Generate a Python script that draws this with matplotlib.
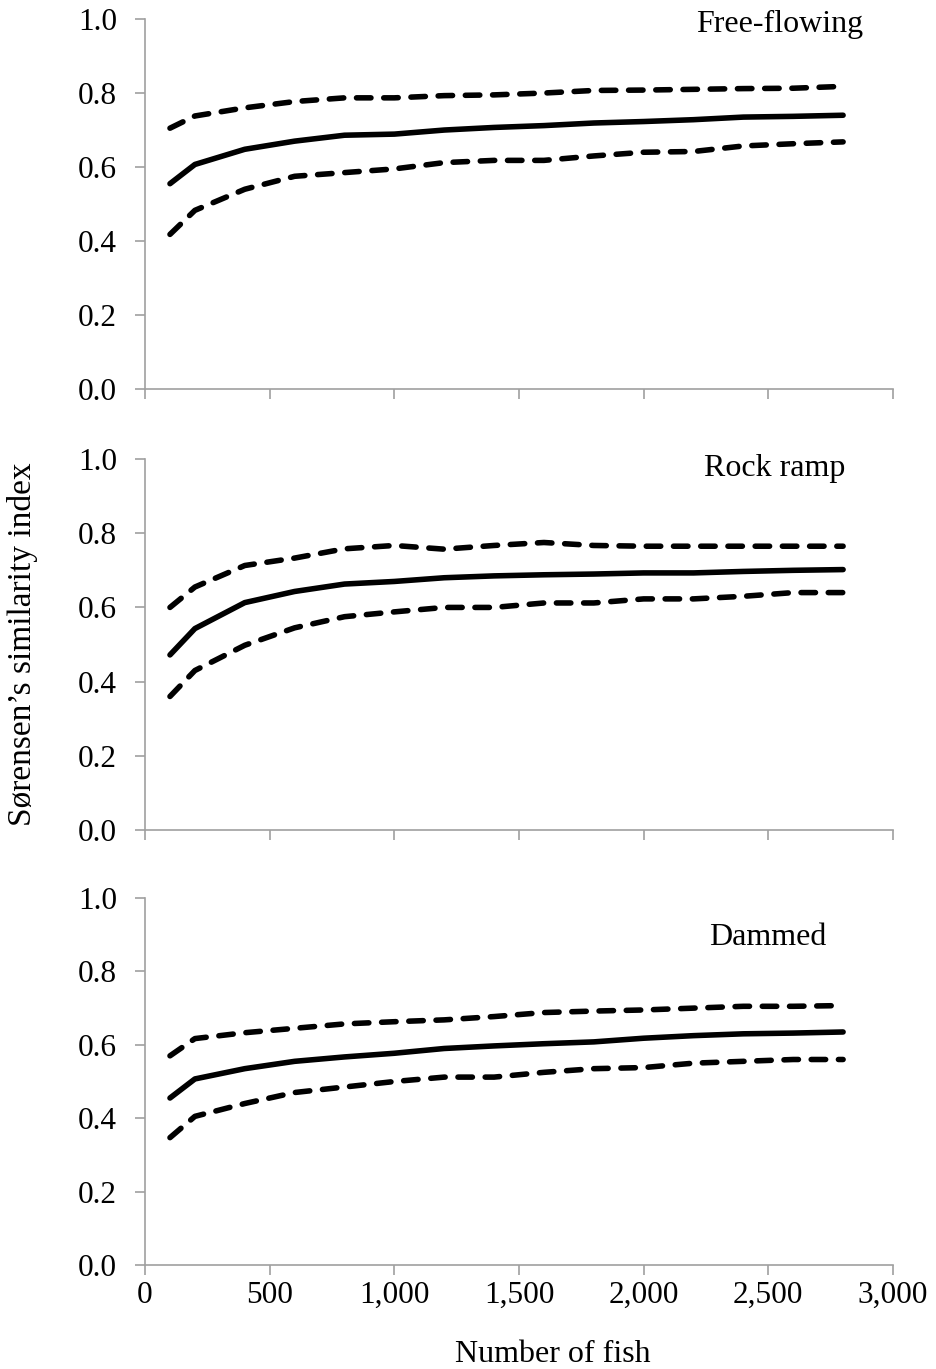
import matplotlib
matplotlib.use("Agg")
import matplotlib.pyplot as plt
from matplotlib.ticker import FuncFormatter

plt.rcParams['font.family'] = ['Liberation Serif', 'DejaVu Serif']

n_fish = [100, 200, 400, 600, 800, 1000, 1200, 1400, 1600, 1800, 2000, 2200, 2400, 2600, 2800]

free_mean = [0.555, 0.607, 0.648, 0.670, 0.686, 0.689, 0.700, 0.707, 0.712, 0.719, 0.723, 0.728, 0.735, 0.737, 0.740]
free_upper = [0.705, 0.738, 0.760, 0.777, 0.787, 0.787, 0.793, 0.795, 0.800, 0.807, 0.808, 0.810, 0.812, 0.813, 0.818]
free_lower = [0.418, 0.483, 0.540, 0.575, 0.585, 0.595, 0.612, 0.618, 0.618, 0.630, 0.640, 0.642, 0.657, 0.663, 0.668]

rock_mean = [0.472, 0.543, 0.613, 0.643, 0.663, 0.670, 0.680, 0.685, 0.688, 0.690, 0.693, 0.693, 0.697, 0.700, 0.702]
rock_upper = [0.600, 0.655, 0.713, 0.733, 0.758, 0.767, 0.757, 0.767, 0.775, 0.767, 0.765, 0.765, 0.765, 0.765, 0.765]
rock_lower = [0.360, 0.430, 0.498, 0.545, 0.575, 0.588, 0.600, 0.600, 0.612, 0.612, 0.623, 0.623, 0.630, 0.640, 0.640]

dam_mean = [0.455, 0.507, 0.535, 0.555, 0.567, 0.577, 0.590, 0.597, 0.603, 0.608, 0.618, 0.625, 0.630, 0.632, 0.635]
dam_upper = [0.570, 0.617, 0.633, 0.645, 0.657, 0.663, 0.668, 0.677, 0.688, 0.692, 0.695, 0.700, 0.705, 0.705, 0.707]
dam_lower = [0.347, 0.405, 0.440, 0.470, 0.485, 0.500, 0.512, 0.512, 0.525, 0.535, 0.538, 0.550, 0.555, 0.560, 0.560]

panel_titles = ["Free-flowing", "Rock ramp", "Dammed"]
x_ticks = [0, 500, 1000, 1500, 2000, 2500, 3000]
y_ticks = [0.0, 0.2, 0.4, 0.6, 0.8, 1.0]

panels = [
    (free_mean, free_upper, free_lower),
    (rock_mean, rock_upper, rock_lower),
    (dam_mean, dam_upper, dam_lower),
]
title_pos = [(2880, 0.985, 'right'), (2808, 0.975, 'right'), (2735, 0.893, 'right')]
axes_rects = [
    (0.1548, 0.7158, 0.7982, 0.2703),
    (0.1548, 0.3937, 0.7982, 0.2710),
    (0.1548, 0.0760, 0.7982, 0.2680),
]

fig = plt.figure(figsize=(9.37, 13.69), dpi=100)
gray = '#a0a0a0'
fs = 22.5
lw = 4.0

for i, ((m, u, l), rect) in enumerate(zip(panels, axes_rects)):
    ax = fig.add_axes(rect)
    ax.plot(n_fish, m, color='black', lw=lw, solid_capstyle='round', solid_joinstyle='round')
    for s in (u, l):
        ax.plot(n_fish, s, color='black', lw=lw, dashes=(2.6, 2.3),
                dash_capstyle='round', dash_joinstyle='round')
    ax.set_xlim(0, 3000)
    ax.set_ylim(0, 1.0)
    ax.set_xticks(x_ticks)
    ax.set_yticks(y_ticks)
    ax.yaxis.set_major_formatter(FuncFormatter(lambda v, p: f"{v:.1f}"))
    if i == 2:
        ax.xaxis.set_major_formatter(FuncFormatter(lambda v, p: f"{int(v):,}"))
    else:
        ax.set_xticklabels([])
    for side in ('top', 'right'):
        ax.spines[side].set_visible(False)
    for side in ('left', 'bottom'):
        ax.spines[side].set_color(gray)
        ax.spines[side].set_linewidth(1.2)
    ax.tick_params(axis='both', direction='out', length=7.2, width=1.2, color=gray,
                   labelsize=fs, labelcolor='black')
    ax.tick_params(axis='y', pad=13)
    ax.tick_params(axis='x', pad=4)
    tx, ty, ha = title_pos[i]
    ax.text(tx, ty, panel_titles[i], ha=ha, va='center', fontsize=23)
    for line in ax.lines:
        line.set_clip_on(False)

fig.text(0.590, 0.0050, "Number of fish", ha='center', va='baseline', fontsize=23)
fig.text(0.0235, 0.5296, "Sørensen’s similarity index", rotation=90, ha='center', va='center', fontsize=24)

fig.savefig("out.png", dpi=100, facecolor='white')
